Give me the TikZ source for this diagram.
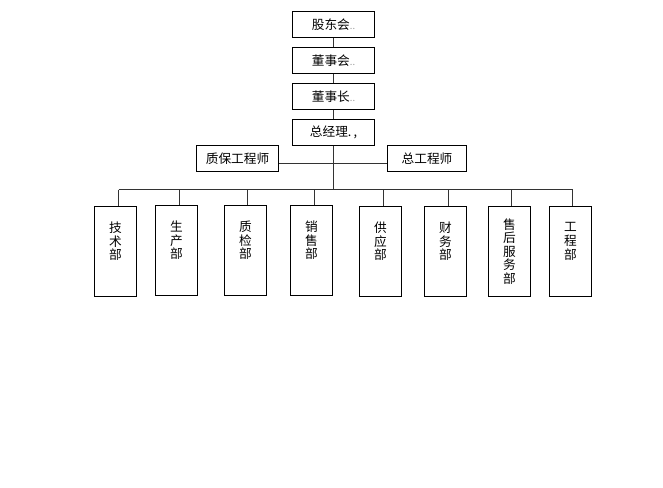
\documentclass[tikz,border=0pt]{standalone}
\usepackage{fontspec}
\setmainfont{Noto Sans CJK SC}
\begin{document}
\begin{tikzpicture}[x=0.75pt,y=-0.75pt,
  box/.style={draw=black,line width=0.75pt,inner sep=0pt,font=\fontsize{9.5}{10}\selectfont},
  dept/.style={box,minimum width=31.5pt,minimum height=67.5pt,align=center,font=\fontsize{9.5}{10.2}\selectfont},
  link/.style={draw=black!80,line width=0.75pt}]
\useasboundingbox (0,0) rectangle (663,487);
\fill[white] (0,0) rectangle (663,487);
% top chain
\node[box,minimum width=62pt,minimum height=19.5pt] (gd) at (333.5,24.5) {股东会{\color{black!40}\scriptsize..}};
\node[box,minimum width=62pt,minimum height=19.5pt] (dsh) at (333.5,60.5) {董事会{\color{black!40}\scriptsize..}};
\node[box,minimum width=62pt,minimum height=19.5pt] (dsz) at (333.5,96.5) {董事长{\color{black!40}\scriptsize..}};
\node[box,minimum width=62pt,minimum height=19.5pt] (zjl) at (333.5,132.5) {总经理.\,,};
\node[box,minimum width=62pt,minimum height=19.5pt] (zb) at (237.5,158.5) {质保工程师};
\node[box,minimum width=59.25pt,minimum height=19.5pt] (zg) at (427,158.5) {总工程师};
% departments
\node[dept] (d1) at (115.5,251.5) {技\\术\\部\\[0.6em]};
\node[dept] (d2) at (176.5,250.5) {生\\产\\部\\[0.6em]};
\node[dept] (d3) at (245.5,250.5) {质\\检\\部\\[0.6em]};
\node[dept] (d4) at (311.5,250.5) {销\\售\\部\\[0.6em]};
\node[dept] (d5) at (380.5,251.5) {供\\应\\部\\[0.6em]};
\node[dept] (d6) at (445.5,251.5) {财\\务\\部\\[0.6em]};
\node[dept] (d7) at (509.5,251.5) {售\\后\\服\\务\\部};
\node[dept] (d8) at (570.5,251.5) {工\\程\\部\\[0.6em]};
% coordinates
\coordinate (mid) at (333.5,163.5);
\coordinate (bus) at (333.5,189.5);
\coordinate (busL) at (118.5,189.5);
\coordinate (busR) at (572.5,189.5);
% connectors
\draw[link] (gd.south) -- (dsh.north);
\draw[link] (dsh.south) -- (dsz.north);
\draw[link] (dsz.south) -- (zjl.north);
\draw[link] (zjl.south) -- (bus);
\draw[link] (zb.east |- mid) -- (zg.west |- mid);
\draw[link] (busL) -- (busR);
\foreach \d/\x in {d1/118.5,d2/179.5,d3/247.5,d4/314.5,d5/383.5,d6/448.5,d7/511.5,d8/572.5}{
  \coordinate (t\d) at (\x,189.5);
  \draw[link] (t\d) -- (t\d |- \d.north);
}
\end{tikzpicture}
\end{document}
